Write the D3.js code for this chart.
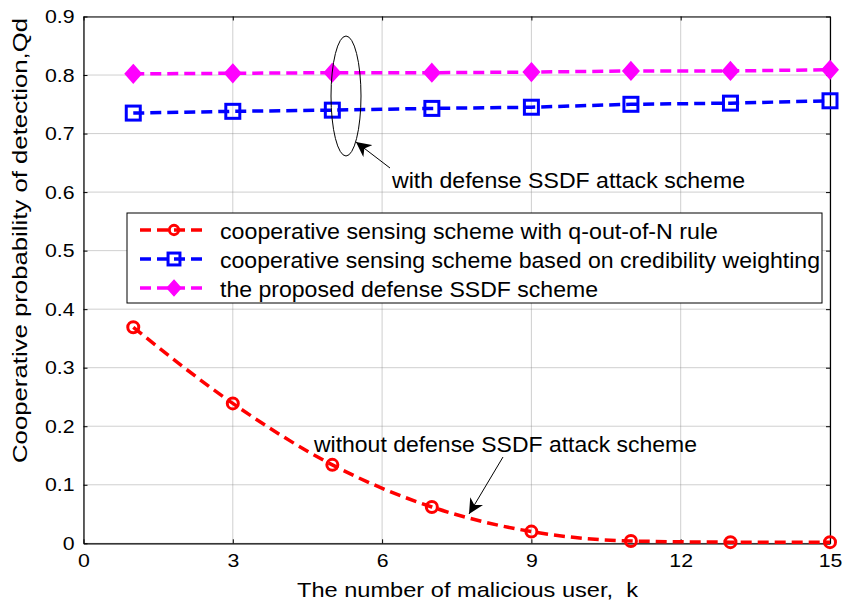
<!DOCTYPE html>
<html><head><meta charset="utf-8">
<script src="https://cdn.jsdelivr.net/npm/d3@7"></script>
<style>body{margin:0;background:#fff}</style></head>
<body><svg id="c" width="843" height="600"></svg>
<script>
const xVals = [1,3,5,7,9,11,13,15];
const qOutOfN = [0.369,0.239,0.134,0.062,0.020,0.004,0.002,0.002];
const credWeight = [0.735,0.738,0.740,0.743,0.745,0.750,0.752,0.756];
const proposed = [0.802,0.803,0.804,0.804,0.805,0.807,0.807,0.809];
const xTicks = [0,3,6,9,12,15];
const yTicks = [0,0.1,0.2,0.3,0.4,0.5,0.6,0.7,0.8,0.9];
const seriesNames = ["cooperative sensing scheme with q-out-of-N rule",
  "cooperative sensing scheme based on credibility weighting",
  "the proposed defense SSDF scheme"];
const seriesColors = ["#ff0000","#0000ff","#ff00ff"];
const seriesMarkers = ["circle","square","diamond"];

const svg = d3.select("#c");
const L=83.5,R=830,T=16.5,B=543.3;
const x = d3.scaleLinear().domain([0,15]).range([L,R]);
const y = d3.scaleLinear().domain([0,0.9]).range([B,T]);
const font = "Liberation Sans, Arial, sans-serif";
function fit(sel,w){ sel.attr("textLength",w).attr("lengthAdjust","spacingAndGlyphs"); }
function stretch(sel,f){ sel.each(function(){ const l=this.getComputedTextLength(); d3.select(this).attr("textLength",l*f).attr("lengthAdjust","spacingAndGlyphs"); }); }

// grid
const g = svg.append("g");
g.selectAll(".gx").data(xTicks).join("line").attr("x1",d=>x(d)).attr("x2",d=>x(d)).attr("y1",T).attr("y2",B)
 .attr("stroke","#888").attr("stroke-width",0.8).attr("stroke-dasharray","1,1");
g.selectAll(".gy").data(yTicks).join("line").attr("y1",d=>y(d)).attr("y2",d=>y(d)).attr("x1",L).attr("x2",R)
 .attr("stroke","#888").attr("stroke-width",0.8).attr("stroke-dasharray","1,1");

// axes
const xa = svg.append("g").attr("transform",`translate(0,${B})`).call(d3.axisBottom(x).tickValues(xTicks).tickSizeInner(-4).tickSizeOuter(0).tickPadding(10));
const xt = svg.append("g").attr("transform",`translate(0,${T})`).call(d3.axisTop(x).tickValues(xTicks).tickSizeInner(-4).tickSizeOuter(0).tickFormat(""));
const ya = svg.append("g").attr("transform",`translate(${L},0)`).call(d3.axisLeft(y).tickValues(yTicks).tickSizeInner(-4).tickSizeOuter(0).tickPadding(9).tickFormat(d=>d===0?"0":d3.format(".1f")(d)));
const yr = svg.append("g").attr("transform",`translate(${R},0)`).call(d3.axisRight(y).tickValues(yTicks).tickSizeInner(-4).tickSizeOuter(0).tickFormat(""));
[xa,xt,ya,yr].forEach(a=>{a.selectAll("path").attr("stroke","#000").attr("stroke-width",1.2);
  a.selectAll("line").attr("stroke","#000");
  a.selectAll("text").attr("font-family",font).attr("font-size",19).attr("fill","#000");});
stretch(xa.selectAll("text"),1.12);
stretch(ya.selectAll("text"),1.12);

// series
const allSeries=[qOutOfN,credWeight,proposed];
function marker(sel,type,color,s){
  s = s||1;
  if(type==="circle") sel.append("circle").attr("r",5.5*s).attr("fill","none").attr("stroke",color).attr("stroke-width",3);
  else if(type==="square") sel.append("rect").attr("x",-7*s).attr("y",-7*s).attr("width",14*s).attr("height",14*s).attr("fill","none").attr("stroke",color).attr("stroke-width",3);
  else sel.append("path").attr("d",`M0,${-9*s}L${8*s},0L0,${9*s}L${-8*s},0Z`).attr("fill",color).attr("stroke",color).attr("stroke-width",1.5);
}
allSeries.forEach((vals,i)=>{
  const pts = xVals.map((xv,j)=>[xv,vals[j]]);
  const line = d3.line().x(d=>x(d[0])).y(d=>y(d[1])).curve(i===0?d3.curveMonotoneX:d3.curveLinear);
  svg.append("path").attr("d",line(pts)).attr("fill","none").attr("stroke",seriesColors[i]).attr("stroke-width",3.5).attr("stroke-dasharray","11,6");
  pts.forEach(p=>{ const m=svg.append("g").attr("transform",`translate(${x(p[0])},${y(p[1])})`); marker(m,seriesMarkers[i],seriesColors[i]); });
});

// legend
const legendWidths=[498,600,378];
const lg = svg.append("g");
lg.append("rect").attr("x",127).attr("y",213).attr("width",695).attr("height",90).attr("fill","#fff").attr("stroke","#000").attr("stroke-width",1);
seriesNames.forEach((n,i)=>{
  const ly = 230 + i*29;
  lg.append("line").attr("x1",140).attr("x2",208).attr("y1",ly).attr("y2",ly).attr("stroke",seriesColors[i]).attr("stroke-width",3.5).attr("stroke-dasharray","11,6");
  const m = lg.append("g").attr("transform",`translate(174,${ly})`); marker(m,seriesMarkers[i],seriesColors[i],0.85);
  const t = lg.append("text").attr("x",220).attr("y",ly+9).text(n).attr("font-family",font).attr("font-size",22).attr("fill","#000");
  fit(t,legendWidths[i]);
});

// annotations
svg.append("defs").append("marker").attr("id","ah").attr("viewBox","0 0 10 10").attr("refX",10).attr("refY",5)
 .attr("markerWidth",15).attr("markerHeight",15).attr("markerUnits","userSpaceOnUse").attr("orient","auto")
 .append("path").attr("d","M0,0L10,5L0,10L3,5Z").attr("fill","#000");
svg.append("ellipse").attr("cx",346).attr("cy",96).attr("rx",15).attr("ry",60).attr("fill","none").attr("stroke","#000").attr("stroke-width",1);
svg.append("line").attr("x1",390).attr("y1",168).attr("x2",356).attr("y2",142).attr("stroke","#000").attr("stroke-width",1).attr("marker-end","url(#ah)");
fit(svg.append("text").attr("x",392).attr("y",188).text("with defense SSDF attack scheme").attr("font-family",font).attr("font-size",22),353);
svg.append("line").attr("x1",503).attr("y1",457).attr("x2",469).attr("y2",514).attr("stroke","#000").attr("stroke-width",1).attr("marker-end","url(#ah)");
fit(svg.append("text").attr("x",314).attr("y",452).text("without defense SSDF attack scheme").attr("font-family",font).attr("font-size",22),383);

// axis labels
fit(svg.append("text").attr("x",297).attr("y",597).text("The number of malicious user,  k").attr("font-family",font).attr("font-size",21).attr("xml:space","preserve").style("white-space","pre"),341);
fit(svg.append("text").attr("transform","translate(27,463) rotate(-90)").text("Cooperative probability of detection,Qd").attr("font-family",font).attr("font-size",20),445);
</script></body></html>
